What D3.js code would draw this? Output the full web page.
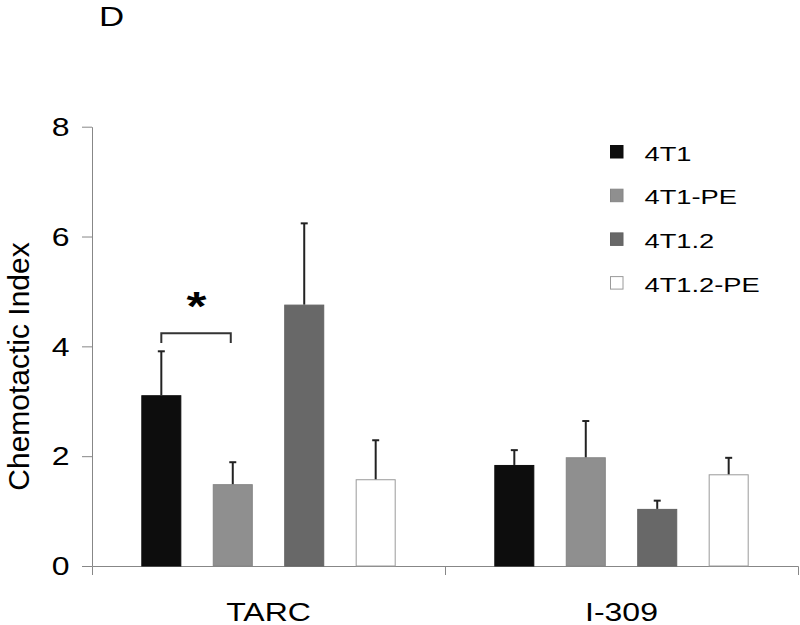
<!DOCTYPE html>
<html>
<head>
<meta charset="utf-8">
<script src="https://cdn.jsdelivr.net/npm/d3@7"></script>
<style>
  html, body { margin: 0; padding: 0; background: #fff; }
  svg { display: block; font-family: "Liberation Sans", Arial, sans-serif; }
</style>
</head>
<body>
<svg id="chart" width="800" height="625"></svg>
<script>
// ---- data ----
const categories = ["TARC", "I-309"];
const seriesNames = ["4T1", "4T1-PE", "4T1.2", "4T1.2-PE"];
const seriesColors = ["#0d0d0d", "#8f8f8f", "#686868", "#ffffff"];
const seriesStrokes = ["#0d0d0d", "#858585", "#636363", "#9a9a9a"];
const valuesTARC = [3.11, 1.49, 4.76, 1.58];
const valuesI309 = [1.84, 1.98, 1.04, 1.67];
const errorsTARC = [0.80, 0.40, 1.48, 0.71];
const errorsI309 = [0.27, 0.66, 0.15, 0.30];
const yTicks = [0, 2, 4, 6, 8];
const yLabel = "Chemotactic Index";
const panelLabel = "D";
const sigLabel = "*";

const table = categories.map((c, i) => ({
  category: c,
  values: seriesNames.map((s, j) => ({
    series: s, idx: j,
    value: (i === 0 ? valuesTARC : valuesI309)[j],
    err: (i === 0 ? errorsTARC : errorsI309)[j]
  }))
}));

const SX = 1.28; // horizontal stretch of text in reference
const svg = d3.select("#chart");
const AX = "#878787";

const y = d3.scaleLinear().domain([0, 8]).range([566, 126.7]);
const x0 = d3.scaleBand().domain(categories).range([92, 798]).paddingInner(0).paddingOuter(0);
const x1 = d3.scaleBand().domain(seriesNames).range([0, x0.bandwidth()]).paddingInner(0.44).paddingOuter(0.69);

function stretchedText(parent, x, yPos, txt, size, anchor, sx) {
  return parent.append("text")
    .attr("transform", `translate(${x},${yPos}) scale(${sx},1)`)
    .attr("text-anchor", anchor)
    .attr("font-size", size)
    .attr("fill", "#000")
    .text(txt);
}

// y axis
const gy = svg.append("g").attr("transform", "translate(92,0)")
  .call(d3.axisLeft(y).tickValues(yTicks).tickSize(10).tickSizeOuter(0).tickPadding(22.5));
gy.selectAll("path.domain, line").attr("stroke", AX);
gy.selectAll("text")
  .attr("font-size", 25).attr("font-family", "Liberation Sans, Arial, sans-serif")
  .attr("fill", "#000")
  .attr("x", -22.5 / SX).attr("dy", "0.35em")
  .attr("transform", `scale(${SX},1)`);

// x axis
const gx = svg.append("g").attr("transform", `translate(0,${y(0)})`)
  .call(d3.axisBottom(x0).tickSize(0).tickSizeOuter(9).tickPadding(55));
gx.select("path.domain").attr("stroke", AX);
gx.selectAll("text")
  .attr("font-size", 25).attr("font-family", "Liberation Sans, Arial, sans-serif")
  .attr("fill", "#000").attr("dy", 0)
  .attr("transform", `scale(${1.28},1)`);
// inner category boundary tick
gx.selectAll("line.boundary").data(categories.slice(1)).enter().append("line")
  .attr("class", "boundary")
  .attr("x1", d => x0(d) + 0.5).attr("x2", d => x0(d) + 0.5)
  .attr("y1", 0).attr("y2", 9).attr("stroke", AX);
// zero tick extending left
svg.append("line").attr("x1", 82).attr("x2", 92).attr("y1", y(0) + 0.5).attr("y2", y(0) + 0.5).attr("stroke", AX);

// bars
const groups = svg.append("g").selectAll("g").data(table).enter().append("g")
  .attr("transform", d => `translate(${x0(d.category)},0)`);
groups.selectAll("rect").data(d => d.values).enter().append("rect")
  .attr("x", d => x1(d.series) + 0.5)
  .attr("y", d => y(d.value) + 0.5)
  .attr("width", x1.bandwidth() - 1)
  .attr("height", d => y(0) - y(d.value) - 0.5)
  .attr("fill", d => seriesColors[d.idx])
  .attr("stroke", d => seriesStrokes[d.idx])
  .attr("stroke-width", 1);

// error bars (upward only)
const eb = groups.selectAll("g.err").data(d => d.values).enter().append("g").attr("class", "err");
eb.append("line")
  .attr("x1", d => x1(d.series) + x1.bandwidth() / 2)
  .attr("x2", d => x1(d.series) + x1.bandwidth() / 2)
  .attr("y1", d => y(d.value))
  .attr("y2", d => y(d.value + d.err))
  .attr("stroke", "#222").attr("stroke-width", 2);
eb.append("line")
  .attr("x1", d => x1(d.series) + x1.bandwidth() / 2 - 3.5)
  .attr("x2", d => x1(d.series) + x1.bandwidth() / 2 + 3.5)
  .attr("y1", d => y(d.value + d.err))
  .attr("y2", d => y(d.value + d.err))
  .attr("stroke", "#222").attr("stroke-width", 2);

// significance bracket TARC: 4T1 vs 4T1-PE
const bx1 = x0("TARC") + x1("4T1") + x1.bandwidth() / 2;
const bx2 = x0("TARC") + x1("4T1-PE") + x1.bandwidth() / 2 - 2;
const byTop = y(4.24), byBot = y(4.06);
svg.append("path")
  .attr("d", `M${bx1},${byBot}V${byTop}H${bx2}V${byBot}`)
  .attr("fill", "none").attr("stroke", "#333").attr("stroke-width", 2);
stretchedText(svg, (bx1 + bx2) / 2 + 0.5, 320, sigLabel, 40, "middle", SX).attr("font-weight", "bold");

// legend
const legend = svg.append("g");
seriesNames.forEach((s, i) => {
  const cy = 152 + i * 43.7;
  legend.append("rect")
    .attr("x", 610.5).attr("y", cy - 6.5).attr("width", 12.5).attr("height", 12.5)
    .attr("fill", seriesColors[i]).attr("stroke", seriesStrokes[i]).attr("stroke-width", 1);
  stretchedText(legend, 644.5, cy + 8.5, s, 21, "start", 1.3);
});

// y label
svg.append("text")
  .attr("transform", "translate(28.5,366.5) rotate(-90)")
  .attr("text-anchor", "middle")
  .attr("font-size", 30)
  .attr("fill", "#000")
  .text(yLabel);

// panel label
stretchedText(svg, 99, 26, panelLabel, 27, "start", 1.29);
</script>
</body>
</html>
